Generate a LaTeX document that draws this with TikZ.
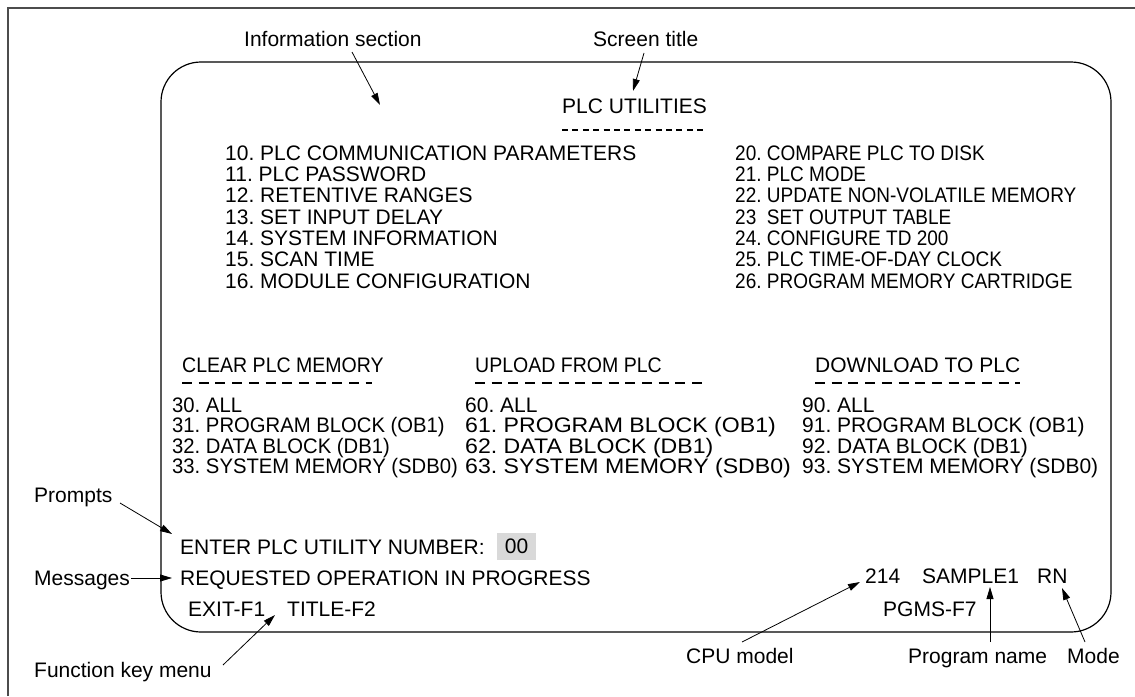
\documentclass[tikz,border=0pt]{standalone}
\usepackage{fontspec}
\setmainfont{Liberation Sans}
\newfontfamily\condR{Liberation Sans}[FakeStretch=0.905]
\newfontfamily\condH{Liberation Sans}[FakeStretch=0.93]
\newfontfamily\condL{Liberation Sans}[FakeStretch=0.965]
\newfontfamily\wideM{Liberation Sans}[FakeStretch=1.1]
\usetikzlibrary{arrows.meta}
\begin{document}
\begin{tikzpicture}[x=1pt,y=-1pt,
  font=\fontsize{21}{21}\selectfont,
  txt/.style={anchor=base west, inner sep=0pt},
  rcol/.style={txt, font=\condR\fontsize{21}{21}\selectfont},
  lcol/.style={txt, font=\condL\fontsize{21}{21}\selectfont},
  mcol/.style={txt, font=\wideM\fontsize{21}{21}\selectfont},
  smallhead/.style={txt, font=\condH\fontsize{21}{21}\selectfont},
  arr/.style={-{Triangle[length=12pt,width=7pt]}, line width=0.8pt},
  shortdash/.style={line width=1.4pt, dash pattern=on 6pt off 4.4pt},
  longdash/.style={line width=1.2pt, dash pattern=on 10pt off 6.7pt}]
\useasboundingbox (0,0) rectangle (1135,696);
% outer frame
\draw[line width=1.6pt, black!70] (8,696) -- (8,8) -- (1135,8);
% screen
\draw[line width=1.2pt, rounded corners=40pt] (161,62) rectangle (1111,632);

% annotation labels
\node[txt] (info) at (244,46) {Information section};
\node[txt] (stitle) at (593,46) {Screen title};
\node[txt] (prompts) at (34,502) {Prompts};
\node[txt] (messages) at (34,585) {Messages};
\node[txt] (fkm) at (34,677) {Function key menu};
\node[txt] (cpu) at (686,663) {CPU model};
\node[txt] (pname) at (908,663) {Program name};
\node[txt] (mode) at (1067,663) {Mode};

% screen title
\node[txt] (title) at (562,113) {PLC UTILITIES};
\draw[shortdash] (562,130) -- (704,130);

% upper lists
\node[txt] (i10) at (225,160.0) {10.\ PLC COMMUNICATION PARAMETERS};
\node[txt] (i11) at (225,181.4) {11.\ PLC PASSWORD};
\node[txt] (i12) at (225,202.7) {12.\ RETENTIVE RANGES};
\node[txt] (i13) at (225,224.1) {13.\ SET INPUT DELAY};
\node[txt] (i14) at (225,245.4) {14.\ SYSTEM INFORMATION};
\node[txt] (i15) at (225,266.8) {15.\ SCAN TIME};
\node[txt] (i16) at (225,288.1) {16.\ MODULE CONFIGURATION};

\node[rcol] (i20) at (735,160.0) {20.\ COMPARE PLC TO DISK};
\node[rcol] (i21) at (735,181.4) {21.\ PLC MODE};
\node[rcol] (i22) at (735,202.7) {22.\ UPDATE NON-VOLATILE MEMORY};
\node[rcol] (i23) at (735,224.1) {23\ \ SET OUTPUT TABLE};
\node[rcol] (i24) at (735,245.4) {24.\ CONFIGURE TD 200};
\node[rcol] (i25) at (735,266.8) {25.\ PLC TIME-OF-DAY CLOCK};
\node[rcol] (i26) at (735,288.1) {26.\ PROGRAM MEMORY CARTRIDGE};

% section headings
\node[smallhead] (hclear) at (182,372) {CLEAR PLC MEMORY};
\node[smallhead] (hup) at (475,372) {UPLOAD FROM PLC};
\node[txt] (hdown) at (815,372) {DOWNLOAD TO PLC};
\draw[longdash] (182,383) -- (372,383);
\draw[longdash] (475,383) -- (708,383);
\draw[longdash] (815,383) -- (1020,383);

% lower lists
\node[lcol] (i30) at (172,412.5) {30.\ ALL};
\node[lcol] (i31) at (172,432.8) {31.\ PROGRAM BLOCK (OB1)};
\node[lcol] (i32) at (172,453.1) {32.\ DATA BLOCK (DB1)};
\node[lcol] (i33) at (172,473.4) {33.\ SYSTEM MEMORY (SDB0)};

\node[txt] (i60) at (465,412.5) {60.\ ALL};
\node[mcol] (i61) at (465,432.8) {61.\ PROGRAM BLOCK (OB1)};
\node[mcol] (i62) at (465,453.1) {62.\ DATA BLOCK (DB1)};
\node[mcol] (i63) at (465,473.4) {63.\ SYSTEM MEMORY (SDB0)};

\node[txt] (i90) at (802,412.5) {90.\ ALL};
\node[txt] (i91) at (802,432.8) {91.\ PROGRAM BLOCK (OB1)};
\node[txt] (i92) at (802,453.1) {92.\ DATA BLOCK (DB1)};
\node[txt] (i93) at (802,473.4) {93.\ SYSTEM MEMORY (SDB0)};

% prompt, message, function keys
\node[txt] (enter) at (180,554) {ENTER PLC UTILITY NUMBER:};
\node[fill=black!15, minimum width=39pt, minimum height=27pt, inner sep=0pt] (num) at (516.5,546.5) {00};
\node[txt] (req) at (180,585) {REQUESTED OPERATION IN PROGRESS};
\node[txt] (exit) at (188,616) {EXIT-F1};
\node[txt] (tf2) at (287,616) {TITLE-F2};
\node[txt] (c214) at (865,583) {214};
\node[txt] (sample) at (922,583) {SAMPLE1};
\node[txt] (rn) at (1037,583) {RN};
\node[txt] (pgms) at (883,616) {PGMS-F7};

% arrow end points
\coordinate (infoS) at (352,52);   \coordinate (infoT) at (380,105);
\coordinate (stS) at (644,53);     \coordinate (stT) at (633,91);
\coordinate (prS) at (120,503);    \coordinate (prT) at (172,534);
\coordinate (msS) at (131,578);    \coordinate (msT) at (172,578);
\coordinate (fkS) at (223,665);    \coordinate (fkT) at (275,615);
\coordinate (cpS) at (742,642);    \coordinate (cpT) at (860,582);
\coordinate (pnS) at (990,642);    \coordinate (pnT) at (990,587);
\coordinate (moS) at (1085,642);   \coordinate (moT) at (1062,588);

\draw[arr] (infoS) -- (infoT);
\draw[arr] (stS) -- (stT);
\draw[arr] (prS) -- (prT);
\draw[arr] (msS) -- (msT);
\draw[arr] (fkS) -- (fkT);
\draw[arr] (cpS) -- (cpT);
\draw[arr] (pnS) -- (pnT);
\draw[arr] (moS) -- (moT);
\end{tikzpicture}
\end{document}
